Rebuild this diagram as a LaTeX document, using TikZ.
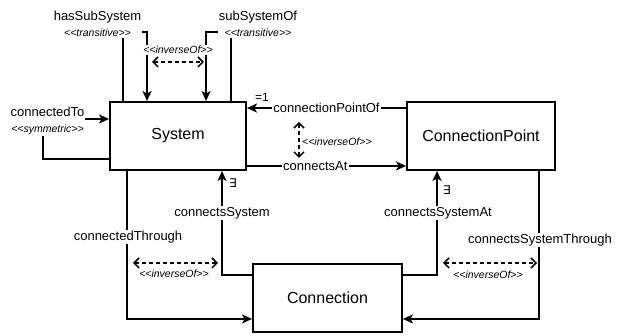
\documentclass[tikz,border=0pt]{standalone}
\usepackage{fontspec}
\setmainfont{Liberation Sans}
\newfontfamily\dejavu{DejaVu Sans}
\usetikzlibrary{arrows.meta,calc,positioning}
\newcommand\stl{<{}<}
\newcommand\str{>{}>}

\begin{document}
\begin{tikzpicture}[x=1pt,y=-1pt,
    box/.style={draw,line width=1.9pt,minimum height=68pt,inner sep=0pt,font=\fontsize{16}{18}\selectfont},
    rel/.style={line width=1.9pt,-{Stealth[length=10pt,width=9pt,inset=2.5pt]}},
    lbl/.style={fill=white,inner sep=1pt,font=\fontsize{13}{15}\selectfont},
    twolbl/.style={fill=white,inner sep=1pt,align=center,font=\fontsize{13}{19}\selectfont},
    stereo/.style={fill=white,inner sep=1pt,font=\fontsize{10.5}{12}\selectfont\itshape},
    inv/.style={line width=1.5pt,dash pattern=on 4pt off 3pt,{Straight Barb[length=5pt,width=10pt]}-{Straight Barb[length=5pt,width=10pt]}},
    card/.style={inner sep=0pt,font=\fontsize{12}{14}\selectfont}]

    \useasboundingbox (0,0) rectangle (622,336);

    \node[box,minimum width=136pt] (sys) at (178,136) {System};
    \node[box,minimum width=148pt] (cpt) at (481,136) {ConnectionPoint};
    \node[box,minimum width=149pt] (conn) at (327.5,298) {Connection};

    % loops on System
    \draw[rel] ($(sys.north west)+(14,0)$) coordinate (hs1) -- ++(0,-69) -| ($(sys.north west)+(38,0)$) coordinate (hs2);
    \draw[rel] ($(sys.north west)+(122,0)$) coordinate (so1) -- ++(0,-69) -| ($(sys.north west)+(97,0)$) coordinate (so2);
    \node[twolbl] (hslbl) at (97.5,24) {hasSubSystem\\[-3pt]{\fontsize{10.5}{12}\selectfont\itshape \stl transitive\str}};
    \node[twolbl] (solbl) at (258,24) {subSystemOf\\[-3pt]{\fontsize{10.5}{12}\selectfont\itshape \stl transitive\str}};
    \coordinate (inv1a) at (152,62);
    \coordinate (inv1b) at (204,62);
    \draw[inv] (inv1a) -- (inv1b);
    \node[stereo] (inv1) at (178,50) {\stl inverseOf\str};

    \draw[rel] ($(sys.south west)+(0,-12)$) -| (43,119) coordinate (ct) -- (ct -| sys.west);
    \node[twolbl] (ctlbl) at (47.5,121) {connectedTo\\[-3pt]{\fontsize{10.5}{12}\selectfont\itshape \stl symmetric\str}};

    % System and ConnectionPoint
    \coordinate (cpo) at ($(cpt.north west)+(0,7)$);
    \draw[rel] (cpo) -- (cpo -| sys.east) node[pos=0.5,lbl] (cpolbl) {connectionPointOf};
    \node[card] (cpocard) at (262,97) {=1};
    \coordinate (cat) at ($(sys.south east)+(0,-5)$);
    \draw[rel] (cat) -- (cat -| cpt.west) node[pos=0.43,lbl] (catlbl) {connectsAt};
    \coordinate (inv2a) at (299,122);
    \coordinate (inv2b) at (299,158);
    \draw[inv] (inv2a) -- (inv2b);
    \node[stereo,anchor=west] (inv2) at (301,142) {\stl inverseOf\str};

    % Connection
    \draw[rel] ($(conn.north west)+(0,12)$) -| ($(sys.south west)+(113,0)$) coordinate (cs);
    \node[lbl] (cslbl) at (222,213) {connectsSystem};
    \node[card] (cscard) at (233,183) {\dejavu ∃};
    \draw[rel] ($(sys.south west)+(18,0)$) |- ($(conn.south west)+(0,-14)$);
    \node[lbl] (ctrlbl) at (128,237) {connectedThrough};
    \coordinate (inv3a) at (133,263);
    \coordinate (inv3b) at (218,263);
    \draw[inv] (inv3a) -- (inv3b);
    \node[stereo] (inv3) at (174,274) {\stl inverseOf\str};

    \draw[rel] ($(conn.north east)+(0,12)$) -| ($(cpt.south west)+(31,0)$) coordinate (csa);
    \node[lbl] (csalbl) at (438,213) {connectsSystemAt};
    \node[card] (csacard) at (447,190) {\dejavu ∃};
    \draw[rel] ($(cpt.south west)+(133,0)$) |- ($(conn.south east)+(0,-14)$);
    \node[lbl] (cstlbl) at (540,240) {connectsSystemThrough};
    \coordinate (inv4a) at (443,263);
    \coordinate (inv4b) at (537,263);
    \draw[inv] (inv4a) -- (inv4b);
    \node[stereo] (inv4) at (488,275) {\stl inverseOf\str};
\end{tikzpicture}
\end{document}
